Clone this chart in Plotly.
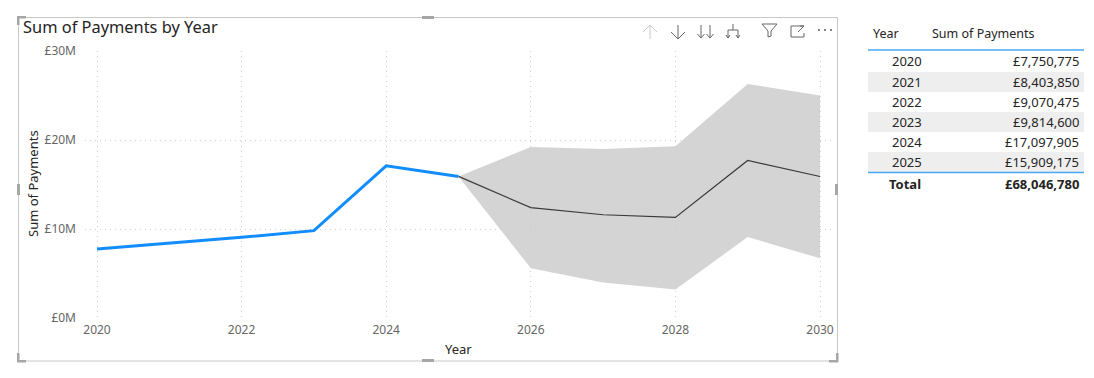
import plotly.graph_objects as go

W, H = 1094, 378

# ---------- data ----------
years = [2020, 2021, 2022, 2023, 2024, 2025]
payments = [7750775, 8403850, 9070475, 9814600, 17097905, 15909175]
forecast_years = [2025, 2026, 2027, 2028, 2029, 2030]
forecast = [15909175, 12400000, 11600000, 11300000, 17700000, 15900000]
upper = [15909175, 19200000, 19000000, 19300000, 26300000, 25000000]
lower = [15909175, 5600000, 4000000, 3200000, 9100000, 6700000]
x_ticks = [2020, 2022, 2024, 2026, 2028, 2030]
y_ticks = [0, 10000000, 20000000, 30000000]
y_labels = ["£0M", "£10M", "£20M", "£30M"]
table_header = ["Year", "Sum of Payments"]
table_total = ["Total", "£68,046,780"]

FONT = "Noto Sans"


def fx(p):
    return p / W


def fy(p):
    return 1 - p / H


fig = go.Figure()
fig.add_trace(go.Scatter(x=forecast_years, y=lower, mode="lines", line=dict(width=0),
                         hoverinfo="skip", showlegend=False))
fig.add_trace(go.Scatter(x=forecast_years, y=upper, mode="lines", line=dict(width=0),
                         fill="tonexty", fillcolor="rgba(204,204,204,0.85)",
                         hoverinfo="skip", showlegend=False))
fig.add_trace(go.Scatter(x=forecast_years, y=forecast, mode="lines",
                         line=dict(color="#3a3a3a", width=1.2), showlegend=False))
fig.add_trace(go.Scatter(x=years, y=payments, mode="lines",
                         line=dict(color="#118DFF", width=3), showlegend=False))

shapes = []
annotations = []


def rect(x0, y0, x1, y1, fill=None, line=None, width=1):
    shapes.append(dict(type="rect", xref="paper", yref="paper",
                       x0=fx(x0), x1=fx(x1), y0=fy(y0), y1=fy(y1),
                       fillcolor=fill or "rgba(0,0,0,0)",
                       line=dict(color=line or "rgba(0,0,0,0)", width=width if line else 0),
                       layer="below"))


def seg(x0, y0, x1, y1, color, width=1):
    shapes.append(dict(type="line", xref="paper", yref="paper",
                       x0=fx(x0), x1=fx(x1), y0=fy(y0), y1=fy(y1),
                       line=dict(color=color, width=width)))


def text(x, y, s, size=13, color="#252423", anchor="left", bold=False, angle=0):
    annotations.append(dict(xref="paper", yref="paper", x=fx(x), y=fy(y), text=f"<b>{s}</b>" if bold else s,
                            showarrow=False, xanchor=anchor, yanchor="middle", textangle=angle,
                            font=dict(family=FONT, size=size, color=color),
                            borderpad=0, borderwidth=0))


# visual frame
rect(18.5, 17.5, 837.5, 361, line="#c8c8c8", width=1)
HANDLE = "#a6a6a6"
for (x0, y0, x1, y1) in [(17, 16, 26, 18.5), (17, 16, 19.5, 25), (17, 360, 26, 362.5), (17, 353, 19.5, 362),
                         (829, 360, 838, 362.5), (836, 353, 838.5, 362), (422, 16, 434, 19), (422, 359, 434, 362),
                         (17, 184, 20, 195), (835, 184, 838, 195)]:
    rect(x0, y0, x1, y1, fill=HANDLE)

# title and header icons
text(23, 27, "Sum of Payments by Year", size=16.4, color="#252423")
ICON = "#666666"
FAINT = "#c9c9c9"
seg(650, 25, 650, 39, FAINT); seg(643, 32, 650, 25, FAINT); seg(657, 32, 650, 25, FAINT)
seg(678, 25, 678, 39, ICON); seg(671, 32, 678, 39, ICON); seg(685, 32, 678, 39, ICON)
for cx in (701, 710):
    seg(cx, 25, cx, 38, ICON); seg(cx - 3.5, 34, cx, 38, ICON); seg(cx + 3.5, 34, cx, 38, ICON)
seg(733, 24, 733, 30, ICON); seg(728, 30, 738, 30, ICON)
seg(728, 30, 728, 38, ICON); seg(738, 30, 738, 38, ICON)
seg(726, 35, 728, 38, ICON); seg(730, 35, 728, 38, ICON)
seg(736, 35, 738, 38, ICON); seg(740, 35, 738, 38, ICON)
seg(762, 24, 777, 24, ICON); seg(762, 24, 768, 31, ICON); seg(777, 24, 771, 31, ICON)
seg(768, 31, 768, 37, ICON); seg(771, 31, 771, 36, ICON); seg(768, 37, 771, 36, ICON)
seg(791, 26, 804, 26, ICON); seg(791, 26, 791, 37, ICON); seg(791, 37, 804, 37, ICON)
seg(804, 33, 804, 37, ICON); seg(798, 32, 804, 26, ICON); seg(800, 26, 804, 26, ICON)
for cx in (819, 825, 831):
    rect(cx - 0.8, 29, cx + 0.8, 31, fill=ICON)

# table
rows = list(zip(years, payments))
row_tops = [51, 72, 92, 112, 132, 152]
for i, (top, (yr, val)) in enumerate(zip(row_tops, rows)):
    bottom = row_tops[i + 1] if i < len(rows) - 1 else 172
    if i % 2 == 1:
        rect(868, top, 1084, bottom, fill="#eeeeee")
    mid = (top + bottom) / 2
    text(922, mid, str(yr), anchor="right")
    text(1079, mid, f"£{val:,}", anchor="right")
seg(868, 50, 1084, 50, "#4aa8f5", 1.6)
seg(868, 172.5, 1084, 172.5, "#4aa8f5", 1.6)
text(873, 33, table_header[0], size=12.5)
text(932, 33, table_header[1], size=12.5)
text(921, 184, table_total[0], anchor="right", bold=True)
text(1079, 184, table_total[1], anchor="right", bold=True)

# axis titles
text(458, 349, "Year", size=13, anchor="center")
text(33, 184, "Sum of Payments", size=13, anchor="center", angle=-90)

# chart area: 2020 at 97 px, 2030 at 820 px; £30M at 51 px, £0M at 318 px
px_per_year = (820 - 97) / 10
GRID = "#d0d0d0"
fig.update_layout(
    width=W, height=H, margin=dict(l=0, r=0, t=0, b=0, pad=0, autoexpand=False), autosize=False,
    paper_bgcolor="white", plot_bgcolor="white", showlegend=False,
    font=dict(family=FONT),
    shapes=shapes, annotations=annotations,
    xaxis=dict(domain=[fx(85), fx(832)],
               range=[2020 - 12 / px_per_year, 2030 + 12 / px_per_year],
               tickvals=x_ticks, ticks="", showline=False, zeroline=False, automargin=False,
               showgrid=True, gridcolor=GRID, griddash="1px,4px", gridwidth=1,
               tickfont=dict(family=FONT, size=12, color="#666666"), ticklabelstandoff=3),
    yaxis=dict(domain=[fy(318), fy(51)], range=[0, 30000000],
               tickvals=y_ticks, ticktext=y_labels, ticks="", showline=False, zeroline=False, automargin=False,
               showgrid=True, gridcolor=GRID, griddash="1px,4px", gridwidth=1,
               tickfont=dict(family=FONT, size=12, color="#666666"), ticklabelstandoff=8),
)

fig.write_html("out.html", config={"displayModeBar": False},
               post_script="document.body.style.margin='0';document.documentElement.style.overflow='hidden';")
